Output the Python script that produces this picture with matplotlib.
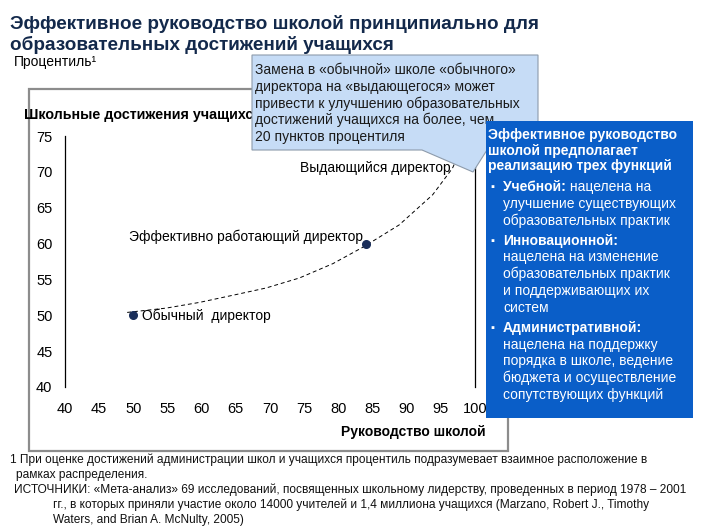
import matplotlib
matplotlib.use("Agg")
import matplotlib.pyplot as plt
from matplotlib.patches import Rectangle, Polygon
from matplotlib import font_manager

plt.rcParams['font.family'] = ['Liberation Sans', 'DejaVu Sans']

names = set(f.name for f in font_manager.fontManager.ttflist)
narrow = 'Liberation Sans Narrow' if 'Liberation Sans Narrow' in names else 'Liberation Sans'

# data
x_ticks = [40, 45, 50, 55, 60, 65, 70, 75, 80, 85, 90, 95, 100]
y_ticks = [40, 45, 50, 55, 60, 65, 70, 75]
x_marks = [50, 55, 65, 70, 75, 80, 90]
y_marks = [45, 55]

point_x = [50, 84]
point_y = [50, 60]

curve_x = [49.1, 54.8, 59.7, 64.6, 69.4, 74.3, 79.2, 83.8, 88.9, 93.8, 96.7, 97.9]
curve_y = [50.4, 51.0, 51.8, 52.8, 53.8, 55.2, 57.2, 59.6, 62.6, 66.8, 70.5, 73.0]

labels = ["Выдающийся директор", "Эффективно работающий директор", "Обычный  директор"]
label_pos = [(96.5, 70.6, 'right'), (49.4, 60.9, 'left'), (51.2, 49.9, 'left')]

title_lines = ["Эффективное руководство школой принципиально для",
               "образовательных достижений учащихся"]

callout_lines = ["Замена в «обычной» школе «обычного»",
                 "директора на «выдающегося» может",
                 "привести к улучшению образовательных",
                 "достижений учащихся на более, чем",
                 "20 пунктов процентиля"]

box_head = ["Эффективное руководство", "школой предполагает", "реализацию трех функций"]
box_items = [("Учебной:", [" нацелена на", "улучшение существующих", "образовательных практик"]),
             ("Инновационной:", ["", "нацелена на изменение", "образовательных практик",
                                 "и поддерживающих их", "систем"]),
             ("Административной:", ["", "нацелена на поддержку", "порядка в школе, ведение",
                                    "бюджета и осуществление", "сопутствующих функций"])]

notes = [(10, 460, "1 При оценке достижений администрации школ и учащихся процентиль подразумевает взаимное расположение в"),
         (16, 475, "рамках распределения."),
         (14, 490, "ИСТОЧНИКИ: «Мета-анализ» 69 исследований, посвященных школьному лидерству, проведенных в период 1978 – 2001"),
         (53, 505, "гг., в которых приняли участие около 14000 учителей и 1,4 миллиона учащихся (Marzano, Robert J., Timothy"),
         (53, 520, "Waters, and Brian A. McNulty, 2005)")]

W, H = 706, 529
fig = plt.figure(figsize=(W / 100, H / 100), dpi=100)

# main chart
ax = fig.add_axes([65 / W, 1 - 387 / H, 410 / W, 251 / H])
ax.set_xlim(40, 100)
ax.set_ylim(40, 75)
ax.patch.set_visible(False)
for s in ['top', 'bottom']:
    ax.spines[s].set_visible(False)
ax.spines['left'].set_linewidth(0.9)
ax.spines['right'].set_linewidth(0.9)

ax.set_xticks(x_ticks)
ax.set_yticks(y_ticks)
ax.tick_params(axis='x', length=0, pad=11, labelsize=10.5)
ax.tick_params(axis='y', length=0, pad=9, labelsize=10.5)
ax.set_xticks(x_marks, minor=True)
ax.set_yticks(y_marks, minor=True)
ax.tick_params(axis='x', which='minor', direction='in', length=4, width=0.9)
ax.tick_params(axis='y', which='minor', direction='in', length=4, width=0.9, right=False)

ax.plot(curve_x, curve_y, color='black', lw=0.7, ls=(0, (4, 3)))
ax.plot(point_x, point_y, 'o', color='#1b2f5a', ms=5.5, ls='none', zorder=3)

for txt, (lx, ly, ha) in zip(labels, label_pos):
    ax.text(lx, ly, txt, ha=ha, va='center', fontsize=10)

# overlay in pixel coords
ov = fig.add_axes([0, 0, 1, 1])
ov.set_xlim(0, W)
ov.set_ylim(H, 0)
ov.axis('off')

ov.add_patch(Rectangle((29, 89), 479, 362, fill=False, edgecolor='#8c8c8c', lw=1.6, zorder=1))

for i, line in enumerate(title_lines):
    ov.text(10, 29 + i * 21.5, line, fontsize=13.6, fontweight='bold', color='#13294b',
            va='baseline', zorder=5)
ov.text(14, 62, "Процентиль¹", fontsize=10, va='center', zorder=5)
ov.text(24, 115, "Школьные достижения учащихся", fontsize=10.3, fontweight='bold',
        va='center', zorder=1)
ov.text(486, 432, "Руководство школой", fontsize=10, fontweight='bold', ha='right',
        va='center', zorder=1)

callout = Polygon([(252, 55), (538, 55), (538, 150), (487, 150), (473, 172), (422, 150), (252, 150)],
                  closed=True, facecolor='#c6dcf6', edgecolor='#8d9bab', lw=0.8, zorder=3)
ov.add_patch(callout)
for i, line in enumerate(callout_lines):
    ov.text(255, 70 + i * 16.7, line, fontsize=10, va='center', color='#1a1a1a', zorder=4)

ov.add_patch(Rectangle((486, 121), 207, 297, facecolor='#0a5ec8', edgecolor='none', zorder=6))
for i, line in enumerate(box_head):
    ov.text(488, 135 + i * 15.5, line, fontsize=10, fontweight='bold', color='white',
            va='center', zorder=7)

y = 187
for head, rest in box_items:
    ov.text(490, y, "▪", fontsize=8, color='white', va='center', zorder=7)
    t = ov.text(503, y, head, fontsize=10, fontweight='bold', color='white', va='center', zorder=7)
    if rest[0]:
        ov.annotate(rest[0], xy=(1, 0), xycoords=t, va='bottom', fontsize=10, color='white',
                    zorder=7)
    for line in rest[1:]:
        y += 16.8
        ov.text(503, y, line, fontsize=10, color='white', va='center', zorder=7)
    y += 20

for nx, ny, line in notes:
    ov.text(nx, ny, line, fontsize=8.6, family=[narrow, 'DejaVu Sans'], va='center',
            color='#111111', zorder=5)

fig.savefig("out.png", dpi=100)
